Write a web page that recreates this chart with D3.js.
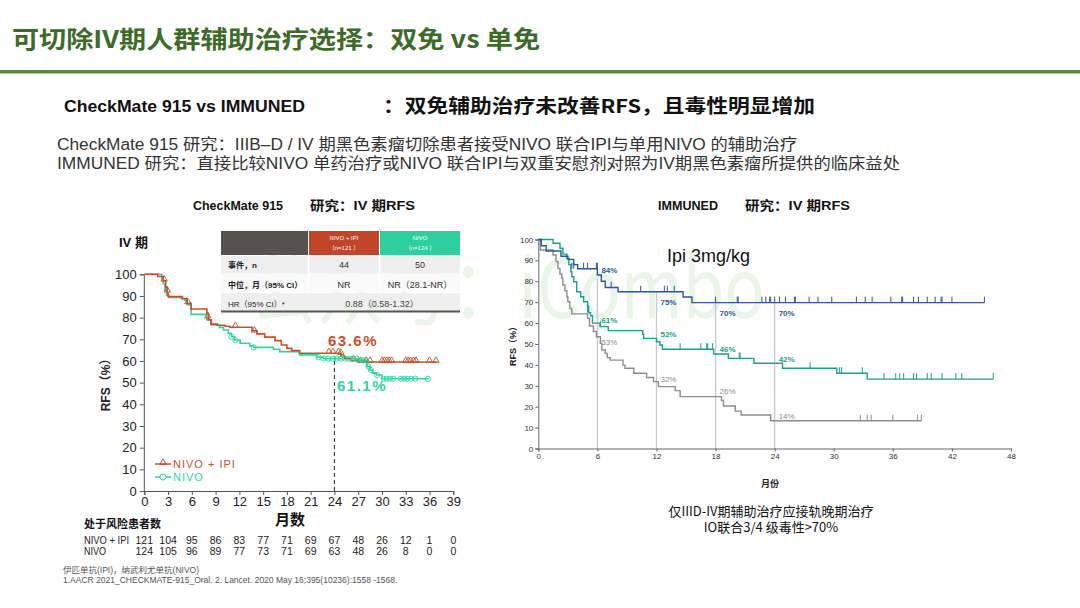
<!DOCTYPE html>
<html><head><meta charset="utf-8">
<script src="https://cdn.jsdelivr.net/npm/d3@7"></script>
<style>
body{margin:0;background:#fff;}
svg{display:block;font-family:"Liberation Sans",Arial,"Noto Sans CJK SC",sans-serif;}
</style></head>
<body><svg id="c" width="1080" height="608"></svg>
<script>
// ---------- DATA ----------
const leftXTicks = d3.range(0, 40, 3);
const leftYTicks = d3.range(0, 101, 10);
// CheckMate 915, stage IV RFS (Kaplan-Meier steps: [month, %])
const nivoIpiSteps = [[0,100],[1.7,99],[2.4,97],[2.7,94],[2.9,91.5],[3.0,89.7],[4.8,88.8],[5.4,86.6],[5.9,84],[7.9,82],[8.1,79],[8.4,77],[9.2,76.5],[10.2,76],[10.8,75.6],[13.6,74],[14.2,72.5],[15.2,71],[16.5,69.4],[17.3,67.4],[18.0,65.8],[18.6,64.8],[19.6,63.6],[24.8,62.3],[25.3,61.2],[26.0,60.2],[27.0,59.5],[37.0,59.5]];
const nivoSteps = [[0,100],[2.2,98],[2.4,95.7],[2.6,92.7],[2.8,90.4],[3.1,89.3],[4.7,88.6],[5.1,88],[5.4,86],[5.9,81.5],[7.9,78.9],[8.5,76.6],[9.5,75.5],[10.0,74.3],[10.6,72.8],[11.0,71.2],[11.4,69.7],[12.1,68.2],[13.3,66.9],[13.8,66.3],[16.3,65.4],[17.1,64.3],[19.6,62.8],[21.8,61.7],[22.6,61.1],[27.0,60.3],[28.1,57.4],[28.5,55.8],[28.8,54.4],[29.3,53.5],[30.0,51.8],[35.9,51.8]];
const nivoIpiCensor = [[2.5,97],[2.9,92],[5.5,86.6],[8.0,80],[11.5,75.6],[13.9,73.5],[23.3,63.6],[23.8,63.6],[24.5,63.6],[24.8,63.2],[26.4,60.2],[27.3,59.5],[28.0,59.5],[28.5,59.5],[30.0,59.5],[30.3,59.5],[30.6,59.5],[30.9,59.5],[31.2,59.5],[33.0,59.5],[33.3,59.5],[33.6,59.5],[34.0,59.5],[34.3,59.5],[36.0,59.5],[36.8,59.5]];
const nivoCensor = [[11.0,71.2],[11.5,69.5],[13.8,66.3],[22.0,61.7],[22.6,61.1],[23.2,61.1],[23.8,61.1],[24.3,61.1],[24.8,61.1],[25.3,61.1],[25.8,61.1],[26.3,61.1],[26.8,61.1],[27.2,60.3],[27.6,60.3],[28.0,60.3],[28.3,57.4],[28.6,55.8],[29.4,53.5],[30.2,51.8],[30.6,51.8],[31.0,51.8],[31.4,51.8],[32.4,51.8],[32.8,51.8],[33.2,51.8],[33.7,51.8],[34.2,51.8],[35.8,51.8]];
const riskNivoIpi = [121,104,95,86,83,77,71,69,67,48,26,12,1,0];
const riskNivo    = [124,105,96,89,77,73,71,69,63,48,26,8,0,0];
const landmark24 = [63.6, 61.1];

// IMMUNED, stage IV RFS
const rightXTicks = d3.range(0, 49, 6);
const rightYTicks = d3.range(0, 101, 10);
const immBlueSteps = [[0,100],[0.3,97],[0.8,94.5],[2.3,92],[3.0,90.5],[3.6,88],[4.0,86],[6.0,83],[6.4,80],[6.8,77],[8.1,75],[14.7,72.5],[15.6,69.8],[45.3,69.8]];
const immTealSteps = [[0,100],[1.5,98.2],[2.2,95.8],[2.5,93],[2.9,91],[3.1,88],[3.3,84.6],[3.4,82.2],[3.6,79.8],[3.9,75],[4.3,72.6],[4.6,70.2],[5.0,68.2],[5.1,65],[5.3,63.5],[5.5,60],[6.26,58.3],[7.1,56.4],[10.6,54.6],[10.7,52.7],[12.0,51.1],[12.35,49.5],[12.6,47.5],[17.8,45.2],[19.3,43.1],[21.9,40.8],[24.8,38.4],[30.3,36],[33.4,33.2],[46.2,33.2]];
const immGraySteps = [[0,100],[0.2,95],[1.5,92.6],[1.8,89.4],[2.0,86.2],[2.2,83.5],[2.4,81.4],[2.5,78.2],[2.7,75.5],[2.9,72.5],[3.0,70.2],[3.2,67],[3.4,64.4],[5.0,62.3],[5.2,58.6],[5.6,56],[5.9,53.5],[6.3,50.3],[6.45,47.1],[6.8,45.5],[7.0,43.5],[7.3,42.3],[8.6,39.9],[8.8,38.4],[9.7,36],[11.0,34],[11.7,32],[12.2,29.6],[13.9,27.7],[14.4,24.8],[18.6,23],[18.8,20.3],[20.0,17.9],[20.6,16],[23.6,13.3],[38.9,13.3]];
const immBlueCensor = [[3.4,86],[3.6,86],[4.6,86],[5.0,86],[5.9,86],[6.0,86],[7.4,77],[10.4,75],[12.8,75],[13.1,75],[13.8,75],[18.0,69.8],[20.2,69.8],[20.3,69.8],[22.7,69.8],[23.1,69.8],[23.5,69.8],[23.6,69.8],[24.0,69.8],[24.5,69.8],[25.1,69.8],[26.0,69.8],[26.1,69.8],[27.5,69.8],[28.4,69.8],[29.8,69.8],[32.3,69.8],[33.2,69.8],[33.9,69.8],[35.8,69.8],[36.9,69.8],[37.0,69.8],[38.1,69.8],[38.6,69.8],[39.5,69.8],[40.3,69.8],[40.9,69.8],[41.0,69.8],[42.0,69.8],[45.3,69.8]];
const immTealCensor = [[5.0,65],[6.3,58.3],[14.4,47.5],[16.5,47.5],[17.1,47.5],[17.2,47.5],[17.7,47.5],[20.4,43.1],[20.5,43.1],[27.6,38.4],[30.6,36],[30.8,36],[32.9,36],[35.1,33.2],[36.3,33.2],[36.7,33.2],[37.1,33.2],[38.1,33.2],[38.4,33.2],[39.5,33.2],[39.9,33.2],[41.0,33.2],[42.4,33.2],[43.0,33.2],[46.2,33.2]];
const immGrayCensor = [[32.7,13.3],[33.4,13.3],[33.8,13.3],[36.0,13.3],[38.5,13.3],[38.9,13.3]];
const landmarkMonths = [6, 12, 18, 24];
const landmarkTop = [81.5, 75, 71, 70];
const immBlueLabels = [84, 75, 70, 70];
const immTealLabels = [61, 52, 46, 42];
const immGrayLabels = [53, 32, 26, 14];

// ---------- DRAW ----------
const svg = d3.select("#c");
svg.append("rect").attr("width",1080).attr("height",608).attr("fill","#fff");

// watermark
svg.append("text").attr("x",250).attr("y",318).attr("font-size",82)
  .attr("font-family","Noto Sans CJK SC").attr("fill","#7cc46a").attr("opacity",0.16)
  .attr("textLength",515).attr("lengthAdjust","spacingAndGlyphs").text("公众号：iCombo");

// header
svg.append("text").attr("x",12).attr("y",48).attr("font-size",24).attr("font-weight","bold")
  .attr("font-family","Noto Sans CJK SC").attr("fill","#3e6b2a")
  .attr("textLength",528).attr("lengthAdjust","spacingAndGlyphs").text("可切除IV期人群辅助治疗选择：双免 vs 单免");
svg.append("rect").attr("x",0).attr("y",70).attr("width",1080).attr("height",3.5).attr("fill","#5a8a3a");

svg.append("text").attr("x",64).attr("y",112).attr("font-size",17).attr("font-weight","bold").attr("fill","#111")
  .attr("textLength",241).attr("lengthAdjust","spacingAndGlyphs").text("CheckMate 915 vs IMMUNED");
svg.append("text").attr("x",383).attr("y",113).attr("font-size",19).attr("font-weight","bold").attr("fill","#111")
  .attr("font-family","Noto Sans CJK SC")
  .attr("textLength",432).attr("lengthAdjust","spacingAndGlyphs").text("：双免辅助治疗未改善RFS，且毒性明显增加");
svg.append("text").attr("x",57).attr("y",150).attr("font-size",16).attr("fill","#333")
  .attr("textLength",740).attr("lengthAdjust","spacingAndGlyphs")
  .text("CheckMate  915 研究：IIIB–D / IV 期黑色素瘤切除患者接受NIVO 联合IPI与单用NIVO 的辅助治疗");
svg.append("text").attr("x",57).attr("y",169).attr("font-size",16).attr("fill","#333")
  .attr("textLength",843).attr("lengthAdjust","spacingAndGlyphs")
  .text("IMMUNED  研究：直接比较NIVO 单药治疗或NIVO 联合IPI与双重安慰剂对照为IV期黑色素瘤所提供的临床益处");

// ===== LEFT CHART =====
const red = "#c5512d", green = "#33d3a2";
const xL = d3.scaleLinear().domain([0,39]).range([144.3,453.3]);
const yL = d3.scaleLinear().domain([0,100]).range([491,274.3]);

svg.append("text").attr("x",193).attr("y",210).attr("font-size",13).attr("font-weight","bold").attr("fill","#111")
  .attr("textLength",90).attr("lengthAdjust","spacingAndGlyphs").text("CheckMate 915");
svg.append("text").attr("x",310).attr("y",210).attr("font-size",13).attr("font-weight","bold").attr("fill","#111")
  .attr("textLength",105).attr("lengthAdjust","spacingAndGlyphs").text("研究：IV  期RFS");
svg.append("text").attr("x",119).attr("y",247).attr("font-size",13).attr("font-weight","bold").attr("fill","#111").text("IV 期");

// table
const tb = svg.append("g").attr("font-size",8);
tb.append("rect").attr("x",221).attr("y",231).attr("width",87).attr("height",24).attr("fill","#57524f");
tb.append("rect").attr("x",309).attr("y",231).attr("width",70).attr("height",24).attr("fill","#c1452a");
tb.append("rect").attr("x",380).attr("y",231).attr("width",80).attr("height",24).attr("fill","#2ccf9d");
tb.append("rect").attr("x",221).attr("y",256).attr("width",239).attr("height",17.5).attr("fill","#efefef");
tb.append("rect").attr("x",221).attr("y",274).attr("width",239).attr("height",18).attr("fill","#fafafa");
tb.append("rect").attr("x",221).attr("y",293).attr("width",239).attr("height",18).attr("fill","#efefef");
[308.5,379.5].forEach(x=>tb.append("line").attr("x1",x).attr("x2",x).attr("y1",256).attr("y2",292).attr("stroke","#fff").attr("stroke-width",1.5));
tb.append("line").attr("x1",221).attr("x2",460).attr("y1",311.5).attr("y2",311.5).attr("stroke","#555").attr("stroke-width",2);
const hdr = [["NIVO + IPI","（n=121  ）",344],["NIVO","（n=124  ）",420]];
hdr.forEach(h=>{
  tb.append("text").attr("x",h[2]).attr("y",240).attr("text-anchor","middle").attr("fill","#fff").attr("font-size",6).text(h[0]);
  tb.append("text").attr("x",h[2]).attr("y",250).attr("text-anchor","middle").attr("fill","#fff").attr("font-size",6).text(h[1]);
});
const rowsT = [["事件，n","44","50",268],["中位，月（95% CI）","NR","NR（28.1-NR）",287.5]];
rowsT.forEach(r=>{
  tb.append("text").attr("x",228).attr("y",r[3]).attr("font-weight","bold").attr("fill","#222").text(r[0]);
  tb.append("text").attr("x",344).attr("y",r[3]).attr("text-anchor","middle").attr("fill","#333").attr("font-size",9).text(r[1]);
  tb.append("text").attr("x",420).attr("y",r[3]).attr("text-anchor","middle").attr("fill","#333").attr("font-size",9).text(r[2]);
});
tb.append("text").attr("x",228).attr("y",306.5).attr("fill","#222").text("HR（95% CI）*");
tb.append("text").attr("x",382).attr("y",306.5).attr("text-anchor","middle").attr("fill","#444").attr("font-size",9).text("0.88（0.58-1.32）");

// axes
const axL = svg.append("g").attr("transform",`translate(${xL(0)-0.5},0)`)
  .call(d3.axisLeft(yL).tickValues(leftYTicks).tickSize(4).tickPadding(3));
const axB = svg.append("g").attr("transform",`translate(0,${yL(0)})`)
  .call(d3.axisBottom(xL).tickValues(leftXTicks).tickSize(4).tickPadding(2));
[axL,axB].forEach(a=>{a.selectAll("text").attr("font-size",13).attr("fill","#222");a.selectAll("line,path").attr("stroke","#555");});
svg.append("text").attr("transform","translate(110,382) rotate(-90)").attr("text-anchor","middle")
  .attr("font-size",12).attr("font-weight","bold").attr("fill","#222").text("RFS（%）");
svg.append("text").attr("x",290).attr("y",525).attr("text-anchor","middle").attr("font-size",15).attr("font-weight","bold")
  .attr("font-family","Noto Sans CJK SC").attr("fill","#111").text("月数");

// dashed landmark
svg.append("line").attr("x1",xL(24)).attr("x2",xL(24)).attr("y1",yL(0)).attr("y2",yL(62))
  .attr("stroke","#444").attr("stroke-dasharray","4,3").attr("stroke-width",1.2);

const stepL = d3.line().x(d=>xL(d[0])).y(d=>yL(d[1])).curve(d3.curveStepAfter);
svg.append("path").attr("d",stepL(nivoSteps)).attr("fill","none").attr("stroke",green).attr("stroke-width",1.6);
svg.append("path").attr("d",stepL(nivoIpiSteps)).attr("fill","none").attr("stroke",red).attr("stroke-width",1.6);
const tri = d3.symbol().type(d3.symbolTriangle).size(18);
svg.append("g").selectAll("path").data(nivoIpiCensor).join("path")
  .attr("d",tri).attr("transform",d=>`translate(${xL(d[0])},${yL(d[1])-1.5})`)
  .attr("fill","none").attr("stroke",red).attr("stroke-width",0.9);
svg.append("g").selectAll("circle").data(nivoCensor).join("circle")
  .attr("cx",d=>xL(d[0])).attr("cy",d=>yL(d[1])).attr("r",2.6)
  .attr("fill","none").attr("stroke",green).attr("stroke-width",0.9);

svg.append("text").attr("x",328).attr("y",346).attr("font-size",15).attr("font-weight","bold")
  .attr("fill",red).attr("letter-spacing",1.5).text(landmark24[0].toFixed(1)+"%");
svg.append("text").attr("x",337).attr("y",391).attr("font-size",15).attr("font-weight","bold")
  .attr("fill",green).attr("letter-spacing",1.5).text(landmark24[1].toFixed(1)+"%");

// legend
const lg = [["NIVO + IPI",red,"tri",464],["NIVO",green,"circ",477]];
lg.forEach(l=>{
  svg.append("line").attr("x1",155).attr("x2",171).attr("y1",l[3]).attr("y2",l[3]).attr("stroke",l[1]).attr("stroke-width",1.5);
  if(l[2]==="tri") svg.append("path").attr("d",tri).attr("transform",`translate(163,${l[3]-1.5})`).attr("fill","none").attr("stroke",l[1]);
  else svg.append("circle").attr("cx",163).attr("cy",l[3]).attr("r",3).attr("fill","#fff").attr("stroke",l[1]);
  svg.append("text").attr("x",173).attr("y",l[3]+4).attr("font-size",11).attr("letter-spacing",1).attr("fill",l[1]).text(l[0]);
});

// risk table
svg.append("text").attr("x",84).attr("y",528).attr("font-size",11).attr("font-weight","bold")
  .attr("font-family","Noto Sans CJK SC").attr("fill","#111").text("处于风险患者数");
[["NIVO + IPI",riskNivoIpi,544,45],["NIVO",riskNivo,555,22]].forEach(r=>{
  svg.append("text").attr("x",84).attr("y",r[2]).attr("font-size",10.5).attr("fill","#222")
    .attr("textLength",r[3]).attr("lengthAdjust","spacingAndGlyphs").text(r[0]);
  svg.append("g").selectAll("text").data(r[1]).join("text")
    .attr("x",(d,i)=>xL(leftXTicks[i])).attr("y",r[2]).attr("text-anchor","middle")
    .attr("font-size",10.5).attr("fill","#222").text(d=>d);
});
svg.append("text").attr("x",63).attr("y",573).attr("font-size",8.5).attr("fill","#555").text("伊匹单抗(IPI)，纳武利尤单抗(NIVO)");
svg.append("text").attr("x",63).attr("y",583).attr("font-size",8.5).attr("fill","#555")
  .text("1.AACR 2021_CHECKMATE-915_Oral.  2. Lancet. 2020 May 16;395(10236):1558    -1568.");

// ===== RIGHT CHART =====
const blue = "#2c5895", teal = "#1f9e89", gray = "#8d8d8d";
const xR = d3.scaleLinear().domain([0,48]).range([538.3,1011]);
const yR = d3.scaleLinear().domain([0,100]).range([448.5,239.5]);

svg.append("text").attr("x",658).attr("y",210).attr("font-size",13).attr("font-weight","bold").attr("fill","#111")
  .attr("textLength",60).attr("lengthAdjust","spacingAndGlyphs").text("IMMUNED");
svg.append("text").attr("x",745).attr("y",210).attr("font-size",13).attr("font-weight","bold").attr("fill","#111")
  .attr("textLength",105).attr("lengthAdjust","spacingAndGlyphs").text("研究：IV  期RFS");

// landmark lines
svg.append("g").selectAll("line").data(landmarkMonths).join("line")
  .attr("x1",d=>xR(d)).attr("x2",d=>xR(d)).attr("y1",yR(0)).attr("y2",(d,i)=>yR(landmarkTop[i]))
  .attr("stroke","#c8c8c8").attr("stroke-width",1.3);

const aR = svg.append("g").attr("transform",`translate(${xR(0)},0)`)
  .call(d3.axisLeft(yR).tickValues(rightYTicks).tickSize(3).tickPadding(2));
const bR = svg.append("g").attr("transform",`translate(0,${yR(0)})`)
  .call(d3.axisBottom(xR).tickValues(rightXTicks).tickSize(3).tickPadding(2));
[aR,bR].forEach(a=>{a.selectAll("text").attr("font-size",8).attr("fill","#333");a.selectAll("line,path").attr("stroke","#666");});
svg.append("text").attr("transform","translate(516,344) rotate(-90)").attr("text-anchor","middle")
  .attr("font-size",9).attr("font-weight","bold").attr("fill","#222").text("RFS（%）");
svg.append("text").attr("x",770).attr("y",487).attr("text-anchor","middle").attr("font-size",9).attr("font-weight","bold")
  .attr("font-family","Noto Sans CJK SC").attr("fill","#222").text("月份");

const stepR = d3.line().x(d=>xR(d[0])).y(d=>yR(d[1])).curve(d3.curveStepAfter);
[[immGraySteps,gray,immGrayCensor],[immTealSteps,teal,immTealCensor],[immBlueSteps,blue,immBlueCensor]].forEach(s=>{
  svg.append("path").attr("d",stepR(s[0])).attr("fill","none").attr("stroke",s[1]).attr("stroke-width",1.4);
  svg.append("g").selectAll("line").data(s[2]).join("line")
    .attr("x1",d=>xR(d[0])).attr("x2",d=>xR(d[0])).attr("y1",d=>yR(d[1])).attr("y2",d=>yR(d[1])-6)
    .attr("stroke",s[1]).attr("stroke-width",1);
});

// landmark labels
const lblDy = {blue:[0,13,14,14], teal:[2,-3,0,1], gray:[7,0,0,0]};
[[immBlueLabels,blue,"blue","bold"],[immTealLabels,teal,"teal","bold"],[immGrayLabels,gray,"gray","normal"]].forEach(s=>{
  svg.append("g").selectAll("text").data(s[0]).join("text")
    .attr("x",(d,i)=>xR(landmarkMonths[i])+4).attr("y",(d,i)=>yR(d)+lblDy[s[2]][i])
    .attr("font-size",8).attr("font-weight",s[3]).attr("fill",s[1]).text(d=>d+"%");
});

svg.append("text").attr("x",667).attr("y",262).attr("font-size",18).attr("fill","#111").text("Ipi 3mg/kg");

svg.append("text").attr("x",771).attr("y",516).attr("text-anchor","middle").attr("font-size",13).attr("fill","#111")
  .attr("font-family","Noto Sans CJK SC").text("仅IIID-IV期辅助治疗应接轨晚期治疗");
svg.append("text").attr("x",771).attr("y",532).attr("text-anchor","middle").attr("font-size",13).attr("fill","#111")
  .attr("font-family","Noto Sans CJK SC").text("IO联合3/4 级毒性>70%");
</script></body></html>
